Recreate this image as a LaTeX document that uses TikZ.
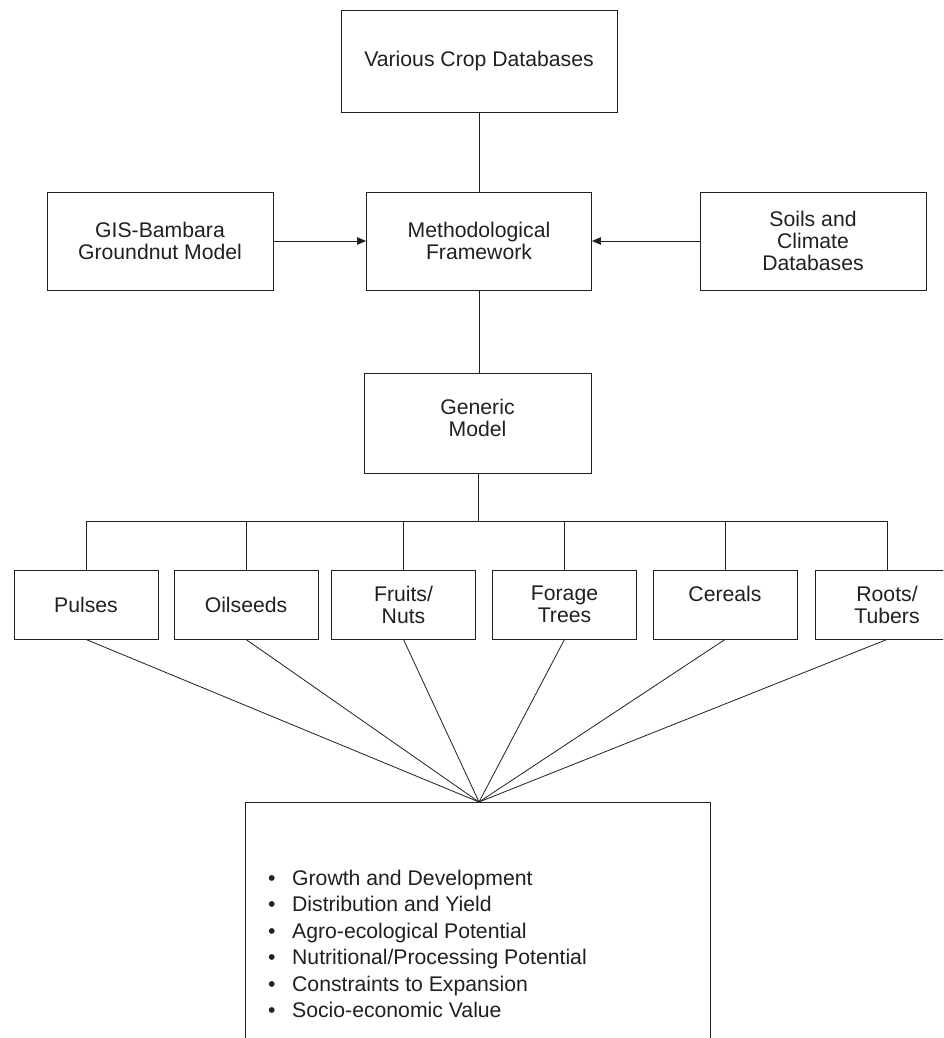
\documentclass[tikz,border=0pt]{standalone}
\usepackage{fontspec}
\setmainfont{Liberation Sans}
\usetikzlibrary{arrows.meta}
\definecolor{ink}{HTML}{231F20}
\begin{document}
\begin{tikzpicture}[x=1pt,y=-1pt,
  every node/.style={font=\fontsize{21.2}{22}\selectfont, text=ink},
  box/.style={draw=ink, line width=0.9pt, rectangle, align=center, inner sep=0pt},
  crop/.style={box, minimum width=144pt, minimum height=69pt},
  link/.style={draw=ink, line width=0.8pt},
  arr/.style={link, -{Triangle[length=9pt,width=7.5pt]}}]
\useasboundingbox (0,0) rectangle (943,1038);
\clip (0,0) rectangle (943,1038);
\fill[white] (0,0) rectangle (943,1038);

\node[box, minimum width=276pt, minimum height=102pt] (vcd) at (479,61) {Various Crop Databases};
\node[box, minimum width=226pt, minimum height=98pt] (gis) at (160,241) {GIS-Bambara\\Groundnut Model};
\node[box, minimum width=225pt, minimum height=98pt] (meth) at (479,241) {Methodological\\Framework};
\node[box, minimum width=226pt, minimum height=98pt] (soil) at (813,241) {Soils and\\Climate\\Databases};
\node[box, minimum width=227pt, minimum height=100pt] (gen) at (477.5,423) {};
\node[align=center] (gentext) at (477.5,418) {Generic\\Model};

\node[crop] (pul) at (86,604.5) {Pulses};
\node[crop] (oil) at (246,604.5) {Oilseeds};
\node[crop] (fru) at (403.5,604.5) {Fruits/\\Nuts};
\node[crop] (for) at (564.5,604.5) {Forage\\Trees};
\node[crop] (cer) at (725,604.5) {Cereals\\\mbox{}};
\node[crop] (roo) at (887,604.5) {Roots/\\Tubers};

\node[box, minimum width=465pt, minimum height=258pt] (res) at (477.5,931) {};
\coordinate (apex) at (479,802);
\coordinate (bus) at (478,521);

\node[anchor=base west, inner sep=0pt] (list) at (268,885) {\parbox[t]{420pt}{\fontsize{21.2}{26.5}\selectfont
\makebox[24pt][l]{•}Growth and Development\\
\makebox[24pt][l]{•}Distribution and Yield\\
\makebox[24pt][l]{•}Agro-ecological Potential\\
\makebox[24pt][l]{•}Nutritional/Processing Potential\\
\makebox[24pt][l]{•}Constraints to Expansion\\
\makebox[24pt][l]{•}Socio-economic Value}};

\draw[link] (vcd.south) -- (meth.north);
\draw[arr] (gis.east) -- (meth.west);
\draw[arr] (soil.west) -- (meth.east);
\draw[link] (meth.south) -- (meth.south |- gen.north);
\draw[link] (bus |- gen.south) -- (bus);
\foreach \c in {pul,oil,fru,for,cer,roo}{
  \draw[link] (\c.north) |- (bus);
  \draw[link] (\c.south) -- (apex);
}
\end{tikzpicture}
\end{document}
